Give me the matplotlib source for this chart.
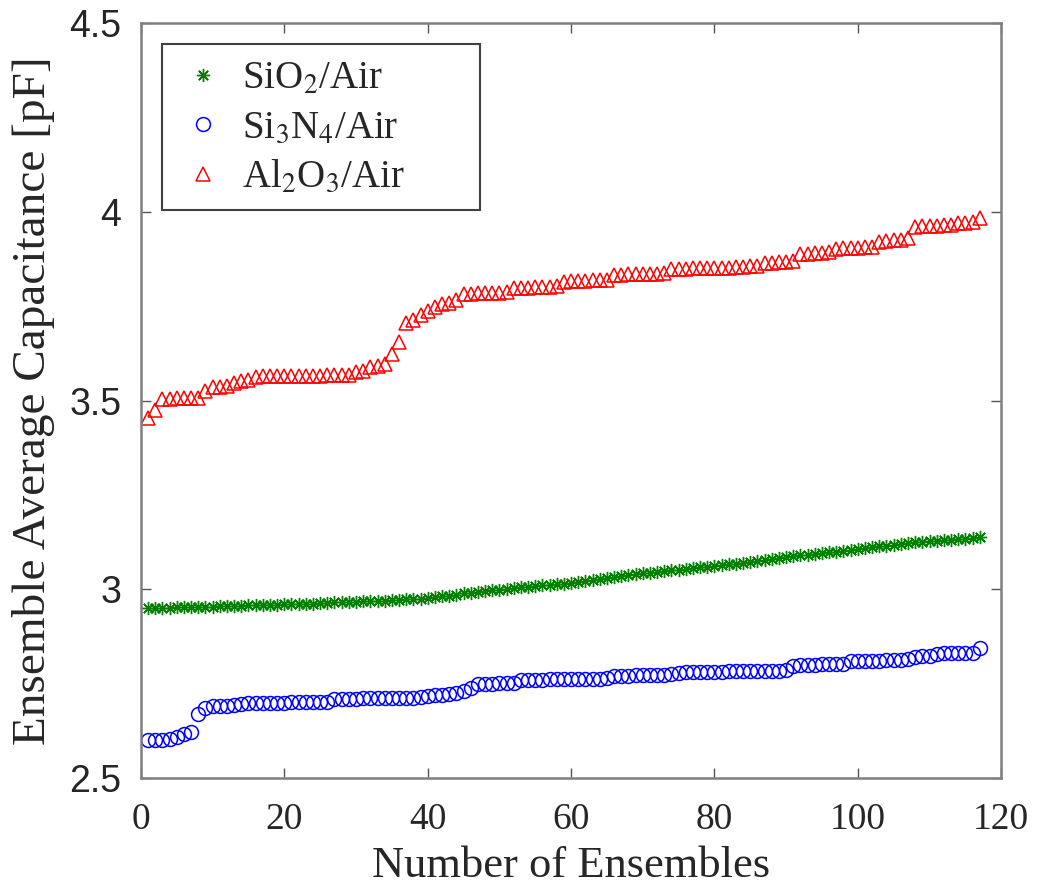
import matplotlib
matplotlib.use("Agg")
import matplotlib.pyplot as plt
from matplotlib.patches import Rectangle

# ---------------- data ----------------
ensembles = list(range(1, 118))

sio2_air = [
    2.950, 2.950, 2.951, 2.951, 2.952, 2.952, 2.953, 2.953, 2.954, 2.954,
    2.955, 2.955, 2.956, 2.956, 2.957, 2.957, 2.958, 2.958, 2.959, 2.960,
    2.960, 2.961, 2.962, 2.962, 2.963, 2.964, 2.965, 2.965, 2.966, 2.967,
    2.968, 2.968, 2.969, 2.970, 2.971, 2.972, 2.973, 2.974, 2.975, 2.977,
    2.979, 2.981, 2.983, 2.986, 2.989, 2.991, 2.993, 2.995, 2.997, 2.999,
    3.001, 3.003, 3.005, 3.007, 3.008, 3.010, 3.011, 3.013, 3.014, 3.016,
    3.018, 3.021, 3.024, 3.027, 3.030, 3.032, 3.035, 3.037, 3.040, 3.042,
    3.044, 3.046, 3.048, 3.050, 3.052, 3.054, 3.056, 3.058, 3.060, 3.062,
    3.064, 3.066, 3.068, 3.070, 3.072, 3.075, 3.078, 3.080, 3.083, 3.086,
    3.088, 3.090, 3.092, 3.094, 3.096, 3.098, 3.100, 3.102, 3.105, 3.108,
    3.110, 3.112, 3.114, 3.116, 3.118, 3.120, 3.122, 3.124, 3.126, 3.128,
    3.129, 3.130, 3.131, 3.133, 3.134, 3.136, 3.138,
]

si3n4_air = [
    2.600, 2.600, 2.600, 2.603, 2.609, 2.616, 2.622,
    2.670,
    2.686,
    2.690, 2.690, 2.691, 2.692,
    2.697, 2.698, 2.698, 2.698, 2.699, 2.699, 2.699, 2.700, 2.700, 2.700, 2.701, 2.701, 2.702,
    2.709, 2.710, 2.710, 2.710, 2.711, 2.711, 2.711, 2.712, 2.712, 2.712, 2.713, 2.713, 2.714,
    2.718, 2.720, 2.721, 2.722, 2.724,
    2.730,
    2.738,
    2.748, 2.750, 2.750, 2.751, 2.752, 2.752,
    2.759, 2.760, 2.760, 2.760, 2.761, 2.761, 2.761, 2.762, 2.762, 2.762, 2.763, 2.763, 2.764,
    2.770, 2.771, 2.771, 2.772, 2.772, 2.773, 2.773, 2.774, 2.775,
    2.779, 2.780, 2.780, 2.780, 2.781, 2.781, 2.781, 2.782, 2.782, 2.782, 2.783, 2.783, 2.783,
    2.784, 2.784, 2.786,
    2.797, 2.799, 2.800, 2.800, 2.801, 2.801, 2.802, 2.803,
    2.809, 2.810, 2.810, 2.811, 2.811, 2.812, 2.812, 2.813, 2.814,
    2.820, 2.822, 2.824,
    2.829, 2.830, 2.830, 2.831, 2.831, 2.832,
    2.843,
]

al2o3_air = [
    3.455,
    3.475,
    3.505, 3.505, 3.507, 3.507, 3.507, 3.508,
    3.525,
    3.535, 3.537, 3.540,
    3.548, 3.552, 3.555,
    3.563, 3.565, 3.565, 3.565, 3.565, 3.566, 3.566, 3.566, 3.566, 3.566, 3.567, 3.567, 3.567, 3.568,
    3.576, 3.580, 3.588, 3.592, 3.598,
    3.625, 3.655, 3.705, 3.715, 3.727, 3.738, 3.748, 3.755, 3.760, 3.766,
    3.782, 3.784, 3.785, 3.785, 3.786, 3.786, 3.788,
    3.798, 3.800, 3.800, 3.801, 3.801, 3.802, 3.803,
    3.815, 3.817, 3.818, 3.818, 3.819, 3.820, 3.821,
    3.832, 3.834, 3.835, 3.835, 3.836, 3.836, 3.837, 3.838,
    3.848, 3.850, 3.850, 3.851, 3.851, 3.852, 3.852, 3.853, 3.853, 3.854, 3.855, 3.856, 3.857,
    3.865, 3.866, 3.867, 3.868, 3.870,
    3.888, 3.890, 3.891, 3.892, 3.893,
    3.903, 3.905, 3.906, 3.906, 3.907, 3.908,
    3.920, 3.923, 3.925, 3.927, 3.930,
    3.960, 3.962, 3.963, 3.964, 3.965, 3.966,
    3.970, 3.972, 3.974,
    3.985,
]

labels = ["SiO$_2$/Air", "Si$_3$N$_4$/Air", "Al$_2$O$_3$/Air"]
x_ticks = [0, 20, 40, 60, 80, 100, 120]
y_ticks = [2.5, 3, 3.5, 4, 4.5]
y_tick_labels = ["2.5", "3", "3.5", "4", "4.5"]

# ---------------- style ----------------
plt.rcParams["font.family"] = ["Liberation Serif", "DejaVu Serif"]
plt.rcParams["mathtext.fontset"] = "stix"

fig = plt.figure(figsize=(10.44, 8.90), dpi=100)
ax = fig.add_axes([0.135, 0.126, 0.824, 0.8476])

ax.plot(ensembles, sio2_air, linestyle="none", marker=(8, 2, 0), markersize=9.5,
        markeredgewidth=1.0, color="#008000", label=labels[0])
ax.plot(ensembles, si3n4_air, linestyle="none", marker="o", markersize=10,
        markerfacecolor="none", markeredgewidth=1.1, color="#0000ff", label=labels[1])
ax.plot(ensembles, al2o3_air, linestyle="none", marker="^", markersize=10.5,
        markerfacecolor="none", markeredgewidth=1.1, color="#ff0000", label=labels[2])

ax.set_xlim(0, 120)
ax.set_ylim(2.5, 4.5)
ax.set_xticks(x_ticks)
ax.set_yticks(y_ticks)
ax.set_yticklabels(y_tick_labels)

for lab in ax.get_xticklabels():
    lab.set_fontfamily(["Liberation Serif"])
    lab.set_fontsize(27)
    lab.set_color("#262626")
for lab in ax.get_yticklabels():
    lab.set_fontfamily(["Liberation Sans"])
    lab.set_fontsize(27)
    lab.set_color("#262626")

ax.tick_params(direction="in", length=7, width=1.0, color="#555555",
               top=True, right=True)
ax.tick_params(axis="x", pad=18)
ax.tick_params(axis="y", pad=14)

for sp in ax.spines.values():
    sp.set_color("#7f7f7f")
    sp.set_linewidth(1.8)

ax.set_xlabel("Number of Ensembles", fontsize=32, color="#262626", labelpad=6)
ax.set_ylabel("Ensemble Average Capacitance [pF]", fontsize=34, color="#262626", labelpad=10)

# legend entries (frame drawn separately to mimic the wide MATLAB box)
leg = ax.legend(loc="upper left", bbox_to_anchor=(0.0494, 0.951), fontsize=28,
                frameon=False, handletextpad=0.5, borderpad=0.0, labelspacing=0.32,
                handlelength=1.0, borderaxespad=0)
for t in leg.get_texts():
    t.set_color("#262626")

frame = Rectangle((0.0244, 0.7527), 0.3698, 0.2202, transform=ax.transAxes,
                  facecolor="white", edgecolor="#404040", linewidth=1.5, zorder=4)
ax.add_patch(frame)
leg.set_zorder(5)

fig.savefig("out.png", dpi=100)
